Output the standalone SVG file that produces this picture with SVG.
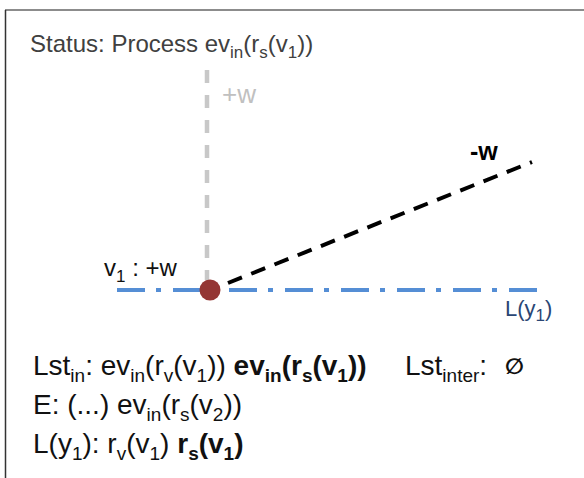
<svg xmlns="http://www.w3.org/2000/svg" width="584" height="478" viewBox="0 0 584 478">
<style>
text{font-family:"Liberation Sans",Arial,sans-serif;fill:#111}
.title{font-size:24px;fill:#404040}
.body{font-size:28px}
.s{font-size:17px}
.bs{font-size:19px}
.bd{font-weight:bold}
.gw{font-size:26px;fill:#c0c0c0}
.bw{font-size:25px;font-weight:bold;fill:#000}
.lab{font-size:24px}
.ly{font-size:22px;fill:#2a4674}
.es{font-family:"DejaVu Sans",sans-serif;font-size:22px;font-weight:bold}
</style>
<rect x="0" y="0" width="584" height="478" fill="#fff"/>
<g id="frame" fill="none" stroke-width="1.5">
<line x1="5" y1="10" x2="584" y2="10" stroke="#666"/>
<line x1="5.5" y1="10" x2="5.5" y2="478" stroke="#333"/>
</g>
<g id="title">
<text class="title" x="30" y="52">Status: Process ev<tspan class="s" dy="6">in</tspan><tspan dy="-6">(r</tspan><tspan class="s" dy="6">s</tspan><tspan dy="-6">(v</tspan><tspan class="s" dy="6">1</tspan><tspan dy="-6">))</tspan></text>
</g>
<g id="connectors" fill="none">
<line x1="207" y1="70" x2="207" y2="280" stroke="#c8c8c8" stroke-width="4.5" stroke-dasharray="13 12"/>
<line x1="228" y1="283" x2="532" y2="162" stroke="#000" stroke-width="4" stroke-dasharray="15 10"/>
<line x1="117" y1="290" x2="537" y2="290" stroke="#558ed5" stroke-width="4" stroke-dasharray="28 11 5 12"/>
</g>
<g id="label-plus-w"><text class="gw" x="222" y="103">+w</text></g>
<g id="label-minus-w"><text class="bw" x="470" y="160">-w</text></g>
<g id="node-v1">
<circle cx="210" cy="290" r="10.5" fill="#943634"/>
<text class="lab" x="104" y="276">v<tspan class="s" dy="6">1</tspan><tspan dy="-6"> : +w</tspan></text>
</g>
<g id="label-Ly1"><text class="ly" x="505" y="316">L(y<tspan class="s" dy="5">1</tspan><tspan dy="-5">)</tspan></text></g>
<g id="lists">
<text class="body" x="33" y="375">Lst<tspan class="bs" dy="7">in</tspan><tspan dy="-7">: ev</tspan><tspan class="bs" dy="7">in</tspan><tspan dy="-7">(r</tspan><tspan class="bs" dy="7">v</tspan><tspan dy="-7">(v</tspan><tspan class="bs" dy="7">1</tspan><tspan dy="-7">)) </tspan><tspan class="bd">ev</tspan><tspan class="bs bd" dy="7">in</tspan><tspan class="bd" dy="-7">(r</tspan><tspan class="bs bd" dy="7">s</tspan><tspan class="bd" dy="-7">(v</tspan><tspan class="bs bd" dy="7">1</tspan><tspan class="bd" dy="-7">))</tspan></text>
<text class="body" x="405" y="375">Lst<tspan class="bs" dy="7">inter</tspan><tspan dy="-7">:</tspan></text>
<text class="es" x="505" y="374">∅</text>
<text class="body" x="33" y="414">E: (...) ev<tspan class="bs" dy="7">in</tspan><tspan dy="-7">(r</tspan><tspan class="bs" dy="7">s</tspan><tspan dy="-7">(v</tspan><tspan class="bs" dy="7">2</tspan><tspan dy="-7">))</tspan></text>
<text class="body" x="33" y="453">L(y<tspan class="bs" dy="7">1</tspan><tspan dy="-7">): r</tspan><tspan class="bs" dy="7">v</tspan><tspan dy="-7">(v</tspan><tspan class="bs" dy="7">1</tspan><tspan dy="-7">) </tspan><tspan class="bd">r</tspan><tspan class="bs bd" dy="7">s</tspan><tspan class="bd" dy="-7">(v</tspan><tspan class="bs bd" dy="7">1</tspan><tspan class="bd" dy="-7">)</tspan></text>
</g>
</svg>
